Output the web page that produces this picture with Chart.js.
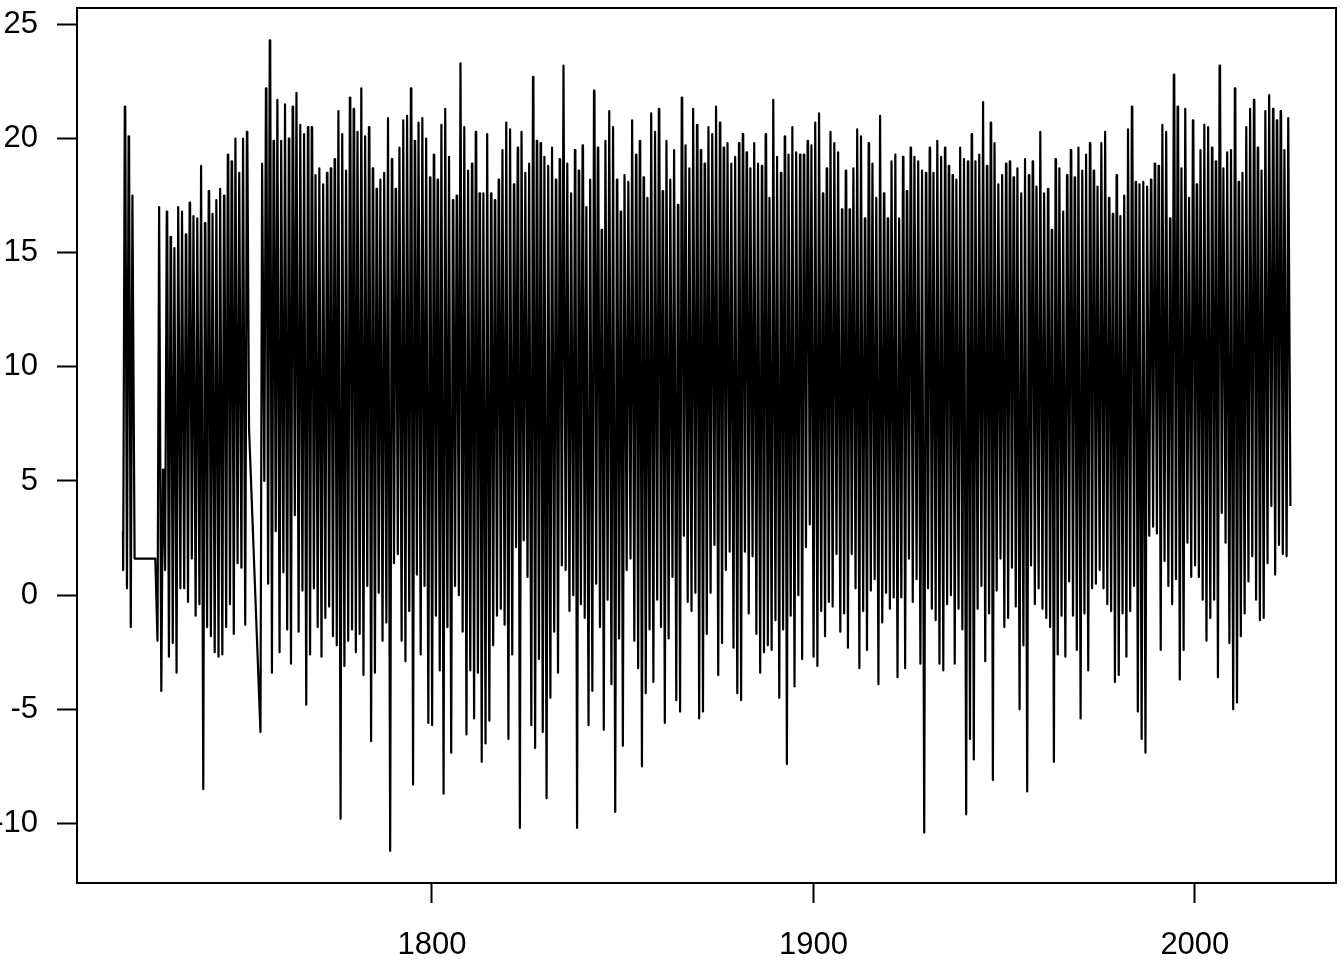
<!DOCTYPE html>
<html><head><meta charset="utf-8">
<style>html,body{margin:0;padding:0;background:#fff}#w{width:1344px;height:960px;position:relative}</style>
<script src="https://cdn.jsdelivr.net/npm/chart.js@4"></script>
</head><body><div id="w"><canvas id="c" width="1344" height="960"></canvas></div>
<script>
const firstYear = 1719;
const startValue = 2.8;
const yTickValues = [-10,-5,0,5,10,15,20,25];
const xTickValues = [1800,1900,2000];
// Yearly summer peaks (1719, then one row per decade)
const highs = [21.4,
20.1,17.5,1.6,1.6,1.6,1.6,1.6,1.6,17.0,5.5,
16.8,15.7,15.2,17.0,16.8,15.8,17.2,16.6,16.5,18.8,
16.3,17.7,16.7,17.3,17.8,17.5,19.3,19.0,20.0,18.5,
20.0,20.3,null,null,null,18.9,22.2,24.3,19.9,21.7,
19.9,21.5,20.0,21.4,22.0,20.6,20.2,20.5,20.5,18.4,
18.7,18.0,18.5,18.7,19.1,21.2,20.2,18.6,21.8,21.3,
20.3,22.2,20.1,20.5,18.7,17.8,18.2,18.5,20.9,19.1,
17.8,19.6,20.8,21.0,22.2,19.9,20.7,20.9,20.0,18.3,
19.3,18.2,20.6,21.3,19.2,17.3,17.5,23.3,20.5,18.6,
18.9,20.3,17.6,17.6,20.2,17.6,17.3,18.2,19.5,20.7,
20.4,18.0,19.6,20.3,18.5,18.9,22.7,19.9,19.8,19.2,
18.8,19.6,18.2,19.1,23.2,18.9,17.6,19.5,18.6,19.7,
17.0,18.2,22.1,19.6,16.0,19.9,21.2,20.5,18.2,16.8,
18.4,18.1,20.8,19.3,19.9,18.3,17.4,21.1,20.3,21.3,
17.7,19.9,18.2,19.5,17.1,21.8,19.7,18.7,21.3,20.6,
19.5,18.9,20.5,20.2,21.4,20.7,19.6,19.8,18.9,19.2,
19.8,20.2,19.4,18.7,19.8,18.9,18.8,20.2,17.4,21.7,
19.2,18.5,20.1,19.3,20.5,19.4,19.3,19.3,19.9,19.7,
20.7,21.1,17.6,18.7,20.3,19.8,19.4,16.9,18.6,16.9,
18.7,20.4,20.1,16.5,19.8,18.9,17.4,21.0,17.6,16.5,
19.0,19.3,16.5,19.2,17.7,19.6,19.2,19.0,18.6,18.5,
19.6,18.5,19.9,19.2,19.6,18.8,18.4,18.2,19.6,19.1,
19.0,20.2,19.0,19.3,21.6,18.8,20.7,19.8,18.0,18.4,
18.9,19.0,18.3,18.7,17.6,19.1,18.4,19.0,17.9,20.3,
17.6,17.8,16.0,19.1,18.7,16.8,18.4,19.5,18.3,19.6,
18.6,19.3,19.8,18.6,17.9,19.8,20.3,17.4,16.7,18.4,
16.6,17.5,20.4,21.4,18.1,18.0,18.1,17.9,18.2,18.9,
18.8,20.6,20.3,16.5,22.8,21.4,18.7,21.3,17.4,20.8,
18.0,19.5,20.6,20.5,19.6,19.0,23.2,18.7,19.4,19.5,
22.2,18.1,18.5,20.5,21.3,21.7,19.6,18.6,21.2,21.9,
21.3,20.8,21.2,19.5,20.9];
// Yearly winter lows
const lows = [1.1,
0.3,-1.4,1.6,1.6,1.6,1.6,1.6,1.6,-2.0,-4.2,
1.1,-2.7,-2.1,-3.4,0.3,0.3,-0.3,1.6,-0.9,-0.4,
-8.5,-1.4,-1.8,-2.5,-2.7,-2.6,-1.4,-0.4,-1.7,1.4,
1.2,-1.3,7.3,null,null,-6.0,5.0,0.5,-3.4,2.8,
-2.5,1.0,-1.5,-3.0,3.5,-1.6,0.2,-4.8,-2.6,0.3,
-1.4,-2.7,-1.0,-0.5,-1.8,-2.2,-9.8,-3.1,-2.0,-1.5,
-2.5,-1.7,-3.5,0.4,-6.4,-3.4,0.1,-2.0,-1.2,-11.2,
1.4,1.8,-2.0,-2.9,-0.7,-8.3,0.9,-2.6,0.4,-5.6,
-5.7,-0.9,-3.3,-8.7,-1.4,-6.9,0.4,0.0,-1.6,-6.1,
-3.3,-5.4,-3.4,-7.3,-6.5,-5.5,-2.2,-0.9,-0.6,-1.3,
-6.3,-2.6,2.1,-10.2,2.4,0.8,-5.7,-6.7,-2.8,-6.0,
-8.9,-4.5,-1.6,-3.4,1.3,1.1,-0.7,0.0,-10.2,-0.4,
-1.0,-5.7,-4.2,0.5,-1.4,-5.9,-0.2,-3.9,-9.5,-1.9,
-6.6,1.1,1.6,-2.0,-3.2,-7.5,-4.3,-1.5,-3.8,-0.2,
-1.4,-5.6,-1.9,0.8,-4.6,-5.1,2.6,-0.3,-0.7,0.1,
-5.4,-5.1,-1.7,0.1,2.2,-3.5,-2.1,1.1,1.9,-2.3,
-4.3,-4.6,1.9,-0.8,1.7,-1.7,-3.4,-2.5,-2.2,-2.4,
-1.1,-4.5,-1.5,-7.4,-0.9,-4.0,0.0,-2.8,2.1,3.1,
-2.7,-3.1,-0.7,-1.8,-0.3,-0.5,1.8,-1.6,-0.8,-2.3,
1.8,0.3,-3.2,-0.7,-2.4,0.2,0.7,-3.9,-1.2,0.1,
-0.6,-0.1,-3.6,-0.1,-3.2,1.6,-0.3,0.7,-3.0,-10.4,
0.3,-0.6,-1.1,-3.0,-3.3,-0.4,0.0,-3.0,-0.6,-1.5,
-9.6,-6.3,-7.2,-0.6,0.4,-2.9,-0.8,-8.1,0.2,1.6,
-1.4,-1.0,1.2,-0.5,-5.0,-2.2,-8.6,1.3,-0.4,0.3,
-0.6,-1.0,-1.4,-7.3,-2.6,-0.9,-2.7,0.6,-0.9,-2.4,
-5.4,-0.8,-3.3,0.3,0.5,1.1,0.3,-0.4,-0.7,-3.8,
-3.5,-0.8,-2.7,-0.7,0.4,-5.1,-6.3,-6.9,2.6,3.0,
2.7,-2.4,1.5,0.4,-0.4,0.7,-3.7,-2.4,2.3,0.8,
1.3,0.8,-0.2,-2.0,-1.0,-0.2,-3.6,3.6,2.3,-2.1,
-5.0,-4.7,-1.8,-0.8,0.6,1.7,-0.2,-1.1,-1.0,1.4,
3.9,0.9,2.2,1.8,1.7,3.9];

// Month fractions of the year where each reading falls
const lowAt = 0.05, highStart = 0.48, highEnd = 0.60;
const points = [{x: firstYear, y: startValue}];
lows.forEach((lo, i) => {
  const yr = firstYear + i;
  if (lo !== null) points.push({x: yr + lowAt, y: lo});
  const hi = highs[i];
  if (hi !== null && hi !== undefined) {
    points.push({x: yr + highStart, y: hi});
    points.push({x: yr + highEnd, y: hi});
  }
});

const boxPlugin = {
  id: 'box',
  afterDraw(ch) {
    const a = ch.chartArea, c = ch.ctx;
    c.save(); c.strokeStyle = '#000'; c.lineWidth = 2;
    c.strokeRect(a.left, a.top, a.right - a.left, a.bottom - a.top);
    c.restore();
  }
};
const noPad = s => { s.paddingTop = 0; s.paddingBottom = 0; s.paddingLeft = 0; s.paddingRight = 0; };
const font = {family: '"Liberation Sans", Arial, sans-serif', size: 31};
new Chart(document.getElementById('c'), {
  type: 'line',
  data: {datasets: [{data: points, borderColor: '#000', borderWidth: 2.2, pointRadius: 0,
    tension: 0, borderJoinStyle: 'round', borderCapStyle: 'butt', spanGaps: true, fill: false}]},
  options: {
    responsive: false, animation: false,
    layout: {padding: {top: 8, right: 8, left: 0, bottom: 0}},
    plugins: {legend: {display: false}, tooltip: {enabled: false}, title: {display: false}},
    scales: {
      x: {type: 'linear', min: 1706.95, max: 2037.0,
        afterBuildTicks: s => { s.ticks = xTickValues.map(v => ({value: v})); },
        afterFit: s => { s.height = 77; noPad(s); },
        grid: {display: true, drawOnChartArea: false, drawTicks: true, tickLength: 20, tickWidth: 2, tickColor: '#000'},
        border: {display: false},
        ticks: {color: '#000', font, padding: 24, maxRotation: 0, autoSkip: false, callback: v => String(v)}},
      y: {type: 'linear', min: -12.61, max: 25.72,
        afterBuildTicks: s => { s.ticks = yTickValues.map(v => ({value: v})); },
        afterFit: s => { s.width = 77; noPad(s); },
        grid: {display: true, drawOnChartArea: false, drawTicks: true, tickLength: 20, tickWidth: 2, tickColor: '#000'},
        border: {display: false},
        ticks: {color: '#000', font, padding: 19, autoSkip: false, callback: v => String(v)}}
    }
  },
  plugins: [boxPlugin]
});
</script></body></html>
